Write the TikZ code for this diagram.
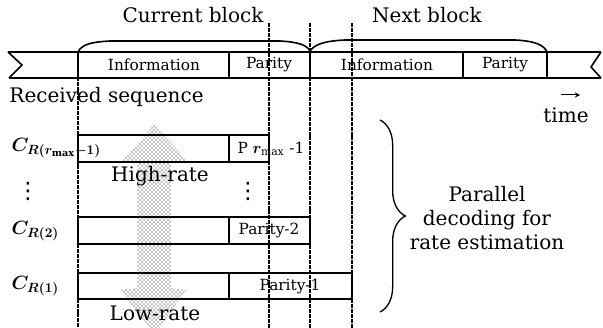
\documentclass[tikz,border=0pt]{standalone}
\usepackage{fontspec}
\usepackage{bm}
\setmainfont{DejaVu Serif}
\newfontfamily\dotsfont{DejaVu Sans}
\usetikzlibrary{patterns,decorations.pathreplacing}

\tikzset{every picture/.style={line width=0.75pt}}
\tikzset{
  cell/.style={line width=1.2pt},
  guide/.style={line width=1.2pt, dash pattern=on 3pt off 0.7pt},
  small/.style={inner sep=0.75pt, font=\fontsize{11.5}{13}\selectfont},
  big/.style={inner sep=0.75pt, font=\fontsize{15}{18}\selectfont},
  code/.style={inner sep=0pt, anchor=west, font=\fontsize{14.5}{17}\selectfont},
  vdot/.style={inner sep=0pt, font=\dotsfont\fontsize{17}{17}\selectfont},
}

\begin{document}
\begin{tikzpicture}[x=0.75pt,y=0.75pt,yscale=-1,xscale=1]
\useasboundingbox (0,0) rectangle (603,328);

%Shape: shaded rate arrow
\fill [pattern=crosshatch dots, pattern color=black] (155,124) -- (188,162) -- (171,162) -- (171,288) -- (186,290) -- (160,328) -- (150,328) -- (120,290) -- (137,288) -- (137,162) -- (122,162) -- cycle ;

%Guide lines
\draw [guide] (78,52) -- (78,328) ;
\draw [guide] (269,23) -- (269,328) ;
\draw [guide] (310,23) -- (310,328) ;
\draw [guide] (352,23) -- (352,328) ;

%Received sequence strip
\draw [cell] (8,52) -- (601,52) ;
\draw [cell] (9,78) -- (601,78) ;
\draw [cell] (8,52) -- (22,65) -- (9,78) ;
\draw [cell] (601,52) -- (591,67) -- (601,78) ;
\draw [cell] (78,52) -- (78,78) (229,52) -- (229,78) (310,52) -- (310,78) (463,52) -- (463,78) (547,52) -- (547,78) ;

%Block arcs
\draw [cell] (78,52) .. controls (82,44) and (92,42) .. (110,41) -- (280,41) .. controls (298,42) and (307,45) .. (310,51) ;
\draw [cell] (310,51) .. controls (315,44) and (325,41) .. (345,40) -- (515,40) .. controls (535,41) and (544,45) .. (547,52) ;

%Codeword rows
\draw [cell] (78,135) rectangle (269,162) (229,135) -- (229,162) ;
\draw [cell] (78,217) rectangle (310,244) (229,217) -- (229,244) ;
\draw [cell] (78,273) rectangle (352,299) (229,273) -- (229,299) ;

\node [big] (cur) at (193,15) {Current block};
\node [big] (nxt) at (427,15) {Next block};
\node [small] (info1) at (154,65) {Information};
\node [small] (par1) at (269,65) {Parity};
\node [small] (info2) at (387,65) {Information};
\node [small] (par2) at (505,65) {Parity};
\node [big, anchor=west] (recv) at (8,97) {Received sequence};

\coordinate (t0) at (561,95) ;
\coordinate (t1) at (580,95) ;
\draw [-stealth] (t0) -- (t1) ;
\node [big] (time) at (566,115) {time};

\node [code] (cmax) at (11,148) {$\bm{C_{R(r_{\max}-1)}}$};
\node [vdot] (vd1) at (28,191) {⋮};
\node [code] (c2) at (11,231) {$\bm{C_{R(2)}}$};
\node [code] (c1) at (11,286) {$\bm{C_{R(1)}}$};

\node [small, anchor=west] (pmax) at (236,149) {P $\bm{r}_{\max}$ -1};
\node [vdot] (vd2) at (248,191) {⋮};
\node [small] (p2) at (269,231) {Parity-2};
\node [small] (p1) at (290,287) {Parity-1};

\node [big] (high) at (160,176) {High-rate};
\node [big] (low) at (155,313) {Low-rate};

\coordinate (bt) at (380,120) ;
\coordinate (bb) at (380,312) ;
\draw [line width=1pt, decorate, decoration={brace, amplitude=19pt}] (bt) -- (bb) ;
\node [big, align=center] (par) at (487,218) {Parallel\\decoding for\\rate estimation};

\end{tikzpicture}
\end{document}
